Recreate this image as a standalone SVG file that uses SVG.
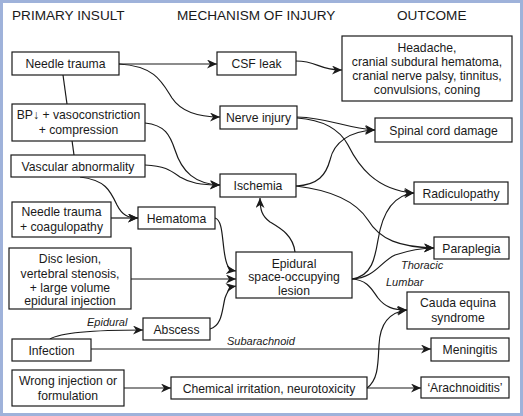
<svg xmlns="http://www.w3.org/2000/svg" width="523" height="416" viewBox="0 0 523 416">
<style>
  .box { fill: #ffffff; stroke: #1a1a1a; stroke-width: 1.2; }
  .t { font-family: "Liberation Sans", Arial, sans-serif; font-size: 12.2px; fill: #1a1a1a; text-anchor: middle; }
  .h { font-family: "Liberation Sans", Arial, sans-serif; font-size: 13.6px; fill: #1a1a1a; }
  .lbl { font-family: "Liberation Sans", Arial, sans-serif; font-size: 11px; font-style: italic; fill: #1a1a1a; }
  .c { fill: none; stroke: #1a1a1a; stroke-width: 1.2; }
  .a { marker-end: url(#arr); }
</style>
<defs>
  <marker id="arr" markerUnits="userSpaceOnUse" markerWidth="11" markerHeight="9" refX="10" refY="4.5" orient="auto">
    <path d="M0,0 L10,4.5 L0,9 L3,4.5 Z" fill="#1a1a1a"/>
  </marker>
</defs>
<rect x="0" y="0" width="523" height="416" fill="#ffffff"/>
<rect x="1.5" y="1.5" width="520" height="413" fill="none" stroke="#9fb2da" stroke-width="3"/>

<g id="headers">
  <text class="h" x="12" y="20">PRIMARY INSULT</text>
  <text class="h" x="177" y="20">MECHANISM OF INJURY</text>
  <text class="h" x="397" y="20">OUTCOME</text>
</g>

<g id="connectors">
  <line class="c" x1="63" y1="75" x2="74" y2="155"/>
  <path class="c a" d="M119,64 L217,64"/>
  <path class="c a" d="M119,64 C155,66 162,82 172,98 C182,113 200,117 220,117"/>
  <path class="c a" d="M296,61 C318,61 318,70 342,70"/>
  <path class="c a" d="M145,123 C165,125 170,135 175,150 C182,172 195,184 220,185"/>
  <path class="c a" d="M145,165 C165,166 170,170 180,177 C190,183 200,185 220,185"/>
  <path class="c a" d="M80,177 C105,180 110,190 117,205 C122,215 128,218 138,218"/>
  <path class="c a" d="M111,218 L138,218"/>
  <path class="c a" d="M215,218 C222,220 222,235 224,250 C226,265 228,270 236,271"/>
  <path class="c a" d="M131,279 L236,279"/>
  <path class="c a" d="M210,329 C222,326 222,310 225,298 C228,290 230,287 236,286"/>
  <path class="c a" d="M50,339 C60,333 90,330 143,330"/>
  <path class="c a" d="M91,349 L431,349"/>
  <path class="c a" d="M124,388 L171,388"/>
  <path class="c a" d="M367,388 L421,388"/>
  <path class="c a" d="M367,388 C378,380 378,365 379,345 C380,322 390,312 407,310"/>
  <path class="c a" d="M295,252 C293,235 280,228 270,222 C262,216 260,210 260,198"/>
  <path class="c a" d="M352,279 C372,276 375,258 378,240 C382,215 392,195 414,193"/>
  <path class="c a" d="M352,279 C375,278 380,262 395,255 C410,250 420,248 434,248"/>
  <path class="c a" d="M352,279 C368,280 372,290 378,298 C385,307 393,310 407,310"/>
  <path class="c a" d="M296,186 C318,185 326,175 330,160 C334,142 350,131 375,130"/>
  <path class="c a" d="M296,186 C330,190 355,200 368,220 C380,240 400,247 434,248"/>
  <path class="c a" d="M297,117 C330,118 345,128 375,130"/>
  <path class="c a" d="M297,118 C325,120 340,130 348,145 C358,165 375,190 414,193"/>
  <text class="lbl" x="87" y="326">Epidural</text>
  <text class="lbl" x="227" y="345">Subarachnoid</text>
  <text class="lbl" x="401" y="269">Thoracic</text>
  <text class="lbl" x="386" y="286">Lumbar</text>
</g>

<g id="needle-trauma"><rect class="box" x="12" y="52" width="107" height="23"/><text class="t" x="65.5" y="68">Needle trauma</text></g>
<g id="csf-leak"><rect class="box" x="217" y="52" width="79" height="23"/><text class="t" x="256.5" y="68">CSF leak</text></g>
<g id="headache"><rect class="box" x="342" y="36" width="170" height="65"/>
  <text class="t" x="427" y="52">Headache,</text>
  <text class="t" x="427" y="66">cranial subdural hematoma,</text>
  <text class="t" x="427" y="80">cranial nerve palsy, tinnitus,</text>
  <text class="t" x="427" y="94">convulsions, coning</text></g>
<g id="bp"><rect class="box" x="12" y="104" width="133" height="37"/>
  <text class="t" x="78.5" y="119">BP↓ + vasoconstriction</text>
  <text class="t" x="78.5" y="134">+ compression</text></g>
<g id="nerve-injury"><rect class="box" x="220" y="106" width="77" height="23"/><text class="t" x="258.5" y="122">Nerve injury</text></g>
<g id="spinal-cord"><rect class="box" x="375" y="118" width="137" height="24"/><text class="t" x="443.5" y="134.5">Spinal cord damage</text></g>
<g id="vascular"><rect class="box" x="11" y="155" width="134" height="22"/><text class="t" x="78" y="170.5">Vascular abnormality</text></g>
<g id="ischemia"><rect class="box" x="220" y="174" width="76" height="23"/><text class="t" x="258" y="190">Ischemia</text></g>
<g id="radiculopathy"><rect class="box" x="414" y="182" width="94" height="22"/><text class="t" x="461" y="197.5">Radiculopathy</text></g>
<g id="needle-coag"><rect class="box" x="12" y="202" width="99" height="35"/>
  <text class="t" x="61.5" y="216">Needle trauma</text>
  <text class="t" x="61.5" y="231">+ coagulopathy</text></g>
<g id="hematoma"><rect class="box" x="138" y="207" width="77" height="22"/><text class="t" x="176.5" y="222.5">Hematoma</text></g>
<g id="paraplegia"><rect class="box" x="434" y="237" width="75" height="22"/><text class="t" x="471.5" y="252.5">Paraplegia</text></g>
<g id="disc-lesion"><rect class="box" x="9" y="248" width="122" height="61"/>
  <text class="t" x="70" y="263">Disc lesion,</text>
  <text class="t" x="70" y="278">vertebral stenosis,</text>
  <text class="t" x="70" y="291.5">+ large volume</text>
  <text class="t" x="70" y="305">epidural injection</text></g>
<g id="epidural-lesion"><rect class="box" x="236" y="252" width="116" height="46"/>
  <text class="t" x="294" y="267.5">Epidural</text>
  <text class="t" x="294" y="281">space-occupying</text>
  <text class="t" x="294" y="294.5">lesion</text></g>
<g id="cauda-equina"><rect class="box" x="407" y="292" width="102" height="37"/>
  <text class="t" x="458" y="307">Cauda equina</text>
  <text class="t" x="458" y="321.5">syndrome</text></g>
<g id="abscess"><rect class="box" x="143" y="318" width="67" height="22"/><text class="t" x="176.5" y="333.5">Abscess</text></g>
<g id="infection"><rect class="box" x="12" y="339" width="79" height="22"/><text class="t" x="51.5" y="354.5">Infection</text></g>
<g id="meningitis"><rect class="box" x="431" y="338" width="78" height="23"/><text class="t" x="470" y="354">Meningitis</text></g>
<g id="wrong-injection"><rect class="box" x="12" y="370" width="112" height="36"/>
  <text class="t" x="68" y="385">Wrong injection or</text>
  <text class="t" x="68" y="399.5">formulation</text></g>
<g id="chemical"><rect class="box" x="171" y="377" width="196" height="22"/><text class="t" x="269" y="392.5">Chemical irritation, neurotoxicity</text></g>
<g id="arachnoiditis"><rect class="box" x="421" y="377" width="88" height="21"/><text class="t" x="465" y="392">‘Arachnoiditis’</text></g>
</svg>
